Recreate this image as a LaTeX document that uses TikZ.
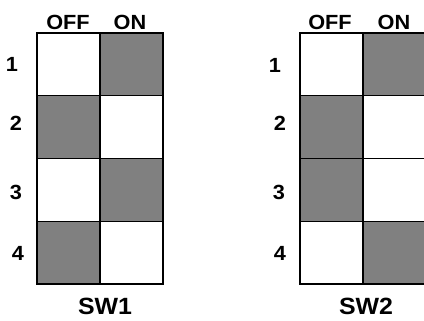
\documentclass[tikz,border=0pt]{standalone}
\usepackage{fontspec}
\setmainfont{Liberation Sans}[FakeStretch=1.06]
\usetikzlibrary{positioning}
\definecolor{swgray}{RGB}{128,128,128}
\tikzset{
  cell/.style={draw=black,line width=1.4pt,minimum width=63pt,minimum height=62.75pt,inner sep=0pt,outer sep=0pt},
  oncell/.style={cell,fill=swgray},
  offcell/.style={cell,fill=white},
  hlab/.style={font=\fontsize{20.5}{20.5}\selectfont\bfseries,inner sep=0pt},
  swlab/.style={font=\fontsize{23.5}{23.5}\selectfont\bfseries,inner sep=0pt}
}
\begin{document}
\begin{tikzpicture}[x=1pt,y=-1pt]
  \clip (0,0) rectangle (424,321);
  \fill[white] (0,0) rectangle (424,321);
  % SW1
  \node[offcell] (aoff1) at (68.5,64.4) {};  \node[oncell] (aon1) at (131.5,64.4) {};
  \node[oncell] (aoff2) at (68.5,127.1) {};  \node[offcell] (aon2) at (131.5,127.1) {};
  \node[offcell] (aoff3) at (68.5,189.9) {}; \node[oncell] (aon3) at (131.5,189.9) {};
  \node[oncell] (aoff4) at (68.5,252.6) {};  \node[offcell] (aon4) at (131.5,252.6) {};
  \node[hlab] (aofflab) at (68,22) {OFF}; \node[hlab] (aonlab) at (130,22) {ON};
  \node[hlab] (arow1) at (12,64) {1}; \node[hlab] (arow2) at (16,123) {2};
  \node[hlab] (arow3) at (16,192) {3}; \node[hlab] (arow4) at (18,253) {4};
  \node[swlab] (aname) at (105,306) {SW1};
  % SW2
  \node[offcell] (boff1) at (331.5,64.4) {};  \node[oncell] (bon1) at (394.5,64.4) {};
  \node[oncell] (boff2) at (331.5,127.1) {};  \node[offcell] (bon2) at (394.5,127.1) {};
  \node[oncell] (boff3) at (331.5,189.9) {};  \node[offcell] (bon3) at (394.5,189.9) {};
  \node[offcell] (boff4) at (331.5,252.6) {}; \node[oncell] (bon4) at (394.5,252.6) {};
  \node[hlab] (bofflab) at (330,22) {OFF}; \node[hlab] (bonlab) at (394,22) {ON};
  \node[hlab] (brow1) at (275,65) {1}; \node[hlab] (brow2) at (280,123) {2};
  \node[hlab] (brow3) at (279,192) {3}; \node[hlab] (brow4) at (280,253) {4};
  \node[swlab] (bname) at (366,306) {SW2};
\end{tikzpicture}
\end{document}
